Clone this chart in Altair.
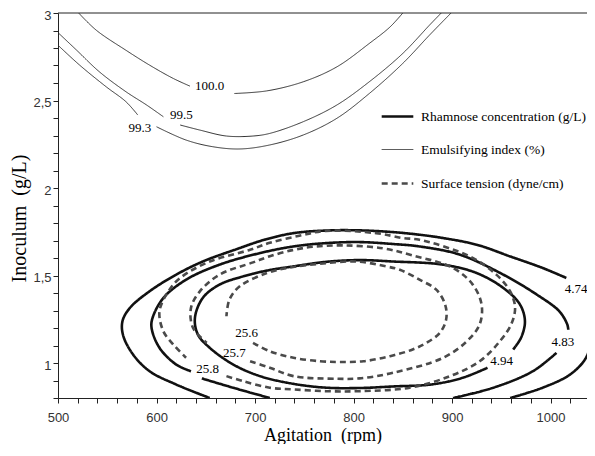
import altair as alt
import pandas as pd

SERIES = ["Rhamnose concentration (g/L)", "Emulsifying index (%)", "Surface tension (dyne/cm)"]

# ---- Rhamnose concentration contours (g/L) ----
rh474_a_x = [654, 620, 593, 576, 566, 565.5, 573, 593, 620, 647, 681, 710, 739, 772, 806, 840, 867, 891, 925, 959, 992, 1016]
rh474_a_y = [0.80, 0.877, 0.953, 1.05, 1.16, 1.24, 1.315, 1.41, 1.505, 1.58, 1.65, 1.705, 1.742, 1.757, 1.758, 1.748, 1.733, 1.714, 1.676, 1.609, 1.543, 1.486]
rh474_b_x = [1040, 1046, 1043, 1036, 1020, 992, 959]
rh474_b_y = [1.362, 1.26, 1.163, 1.03, 0.935, 0.859, 0.80]

rh483_a_x = [715, 680, 646]
rh483_a_y = [0.80, 0.855, 0.912]
rh483_b_x = [635, 620, 603, 595, 596, 607, 630, 664, 705, 739, 772, 806, 840, 867, 908, 952, 986, 1009, 1017, 1018]
rh483_b_y = [0.953, 0.991, 1.087, 1.20, 1.258, 1.372, 1.476, 1.562, 1.628, 1.666, 1.685, 1.691, 1.68, 1.666, 1.619, 1.505, 1.391, 1.295, 1.22, 1.19]
rh483_c_x = [1006, 982, 942, 901]
rh483_c_y = [1.058, 0.953, 0.859, 0.80]

rh494_x = [936, 911, 880, 840, 806, 772, 739, 705, 678, 654, 642, 639, 647, 664, 688, 712, 739, 772, 806, 840, 891, 925, 952, 969, 974, 970, 962]
rh494_y = [0.973, 0.916, 0.878, 0.866, 0.857, 0.859, 0.881, 0.925, 0.991, 1.087, 1.163, 1.258, 1.372, 1.448, 1.495, 1.528, 1.552, 1.578, 1.588, 1.58, 1.562, 1.514, 1.429, 1.334, 1.238, 1.144, 1.077]

# ---- Emulsifying index contours (%) ----
ei100_a_x = [521, 539, 569, 593, 617, 634]
ei100_a_y = [3.0, 2.901, 2.787, 2.702, 2.626, 2.582]
ei100_b_x = [679, 712, 749, 783, 816, 837, 850]
ei100_b_y = [2.54, 2.555, 2.607, 2.692, 2.826, 2.92, 3.0]

ei995_a_x = [500, 519, 542, 569, 590, 607]
ei995_a_y = [2.888, 2.787, 2.664, 2.55, 2.474, 2.407]
ei995_b_x = [624, 644, 671, 698, 715, 749, 783, 816, 850, 877, 889]
ei995_b_y = [2.36, 2.331, 2.297, 2.297, 2.312, 2.379, 2.474, 2.607, 2.769, 2.93, 3.0]

ei993_a_x = [500, 522, 549, 569, 581]
ei993_a_y = [2.816, 2.702, 2.578, 2.493, 2.417]
ei993_b_x = [600, 630, 657, 684.5, 715, 749, 783, 816, 850, 877, 899]
ei993_b_y = [2.35, 2.274, 2.236, 2.223, 2.246, 2.303, 2.398, 2.54, 2.712, 2.873, 3.0]

# ---- Surface tension contours (dyne/cm) ----
st258_x = [671, 688, 715, 739, 772, 806, 857, 898, 928, 948.5, 960, 964, 959, 945, 918, 867, 850, 823, 772, 745, 715, 695, 654, 624, 612, 603, 607, 617, 630]
st258_y = [0.925, 0.896, 0.859, 0.849, 0.839, 0.839, 0.859, 0.925, 1.01, 1.124, 1.22, 1.315, 1.409, 1.505, 1.609, 1.704, 1.714, 1.742, 1.755, 1.727, 1.687, 1.647, 1.58, 1.486, 1.409, 1.295, 1.181, 1.106, 1.03]

st257_x = [695, 715, 739, 783, 806, 840, 891, 915, 928, 930, 921, 901, 860, 830, 790, 760, 738, 715, 698, 664, 644, 635, 637, 651]
st257_y = [1.01, 0.973, 0.925, 0.91, 0.912, 0.944, 1.03, 1.124, 1.22, 1.334, 1.448, 1.543, 1.615, 1.655, 1.672, 1.665, 1.645, 1.61, 1.575, 1.505, 1.409, 1.315, 1.201, 1.115]

st256_x = [698, 715, 739, 766, 786, 810, 837, 860, 874, 887.5, 894, 893, 884, 867, 847, 833, 803, 766, 735, 712, 684.5, 674, 671]
st256_y = [1.115, 1.067, 1.03, 1.01, 1.006, 1.01, 1.039, 1.077, 1.115, 1.172, 1.248, 1.334, 1.419, 1.476, 1.533, 1.552, 1.58, 1.567, 1.545, 1.514, 1.438, 1.362, 1.267]

# ---- contour labels ----
label_text = ["25.6", "25.7", "25.8", "4.94", "4.83", "4.74", "100.0", "99.5", "99.3"]
label_x = [691.6, 679.1, 652, 950.4, 1012.4, 1026, 654, 625.3, 583]
label_y = [1.170, 1.056, 0.967, 1.010, 1.122, 1.425, 2.582, 2.417, 2.344]

x_ticks = [500, 520, 540, 560, 580, 600, 620, 640, 660, 680, 700, 720, 740, 760, 780,
           800, 820, 840, 860, 880, 900, 920, 940, 960, 980, 1000, 1020]
y_ticks = [0.8, 0.9, 1.0, 1.1, 1.2, 1.3, 1.4, 1.5, 1.6, 1.7, 1.8, 1.9, 2.0, 2.1, 2.2,
           2.3, 2.4, 2.5, 2.6, 2.7, 2.8, 2.9, 3.0]
top_edge = [3.0]

segments = [
    (SERIES[0], "rh474a", rh474_a_x, rh474_a_y),
    (SERIES[0], "rh474b", rh474_b_x, rh474_b_y),
    (SERIES[0], "rh483a", rh483_a_x, rh483_a_y),
    (SERIES[0], "rh483b", rh483_b_x, rh483_b_y),
    (SERIES[0], "rh483c", rh483_c_x, rh483_c_y),
    (SERIES[0], "rh494", rh494_x, rh494_y),
    (SERIES[1], "ei100a", ei100_a_x, ei100_a_y),
    (SERIES[1], "ei100b", ei100_b_x, ei100_b_y),
    (SERIES[1], "ei995a", ei995_a_x, ei995_a_y),
    (SERIES[1], "ei995b", ei995_b_x, ei995_b_y),
    (SERIES[1], "ei993a", ei993_a_x, ei993_a_y),
    (SERIES[1], "ei993b", ei993_b_x, ei993_b_y),
    (SERIES[2], "st258", st258_x, st258_y),
    (SERIES[2], "st257", st257_x, st257_y),
    (SERIES[2], "st256", st256_x, st256_y),
]

rows = []
for series, seg, xs, ys in segments:
    for i, (xv, yv) in enumerate(zip(xs, ys)):
        rows.append({"series": series, "seg": seg, "i": i, "x": xv, "y": yv})
df = pd.DataFrame(rows)
labels_df = pd.DataFrame({"t": label_text, "x": label_x, "y": label_y})
top_df = pd.DataFrame({"y": top_edge})

xscale = alt.Scale(domain=[500, 1037], nice=False, zero=False)
yscale = alt.Scale(domain=[0.8, 3.0], nice=False, zero=False)

leg = alt.Legend(
    title=None, orient="none", legendX=322, legendY=86,
    symbolType="stroke", symbolSize=1000, labelFont="Liberation Serif",
    labelFontSize=13.5, labelColor="black", labelLimit=400, labelOffset=6,
    rowPadding=10, padding=0,
)

x_axis = alt.Axis(
    values=x_ticks, format="d",
    labelExpr="datum.value % 100 == 0 ? datum.label : ''",
    title="Agitation\u00a0\u00a0(rpm)", grid=False, tickSize=5,
    labelFlush=False, labelOverlap=False, labelPadding=8,
    titleBaseline="alphabetic", titleY=42, titleFontSize=18,
)
y_axis = alt.Axis(
    values=y_ticks,
    labelExpr="round(datum.value * 10) % 5 == 0 ? replace(toString(round(datum.value * 10) / 10), '.', ',') : ''",
    title="Inoculum\u00a0\u00a0(g/L)", grid=False, tickSize=5,
    labelFlush=False, labelOverlap=False, labelPadding=2, labelOffset=2,
    titlePadding=3, titleY=205, titleFontSize=20,
)

lines = alt.Chart(df).mark_line(interpolate="catmull-rom", clip=True).encode(
    x=alt.X("x:Q", scale=xscale, axis=x_axis),
    y=alt.Y("y:Q", scale=yscale, axis=y_axis),
    detail="seg:N",
    order="i:Q",
    color=alt.Color("series:N", scale=alt.Scale(domain=SERIES, range=["#111111", "#333333", "#4a4a4a"]), legend=leg),
    strokeDash=alt.StrokeDash("series:N", scale=alt.Scale(domain=SERIES, range=[[1, 0], [1, 0], [6, 4]]), legend=leg),
    strokeWidth=alt.StrokeWidth("series:N", scale=alt.Scale(type="ordinal", domain=SERIES, range=[2.6, 1.0, 2.6]), legend=leg),
)

texts = alt.Chart(labels_df).mark_text(
    font="Liberation Serif", fontSize=13, color="black", baseline="middle", align="center"
).encode(x=alt.X("x:Q", scale=xscale, axis=x_axis), y=alt.Y("y:Q", scale=yscale, axis=y_axis), text="t:N")

top_rule = alt.Chart(top_df).mark_rule(color="#222222", strokeWidth=1).encode(
    y=alt.Y("y:Q", scale=yscale, axis=y_axis)
)

chart = alt.layer(lines, texts, top_rule).properties(
    width=529, height=385,
    autosize=alt.AutoSizeParams(type="none"),
    padding={"left": 50, "top": 5, "right": 0, "bottom": 46},
    background="white",
).configure_view(strokeWidth=0).configure_axis(
    domainColor="#222222", tickColor="#222222", labelColor="#333333",
    labelFont="Liberation Sans", labelFontSize=13, titleFont="Liberation Serif",
    titleFontWeight="normal", titleColor="black",
    labelOverlap=False,
)

chart.save("out.html", embed_options={"renderer": "svg", "actions": False})
